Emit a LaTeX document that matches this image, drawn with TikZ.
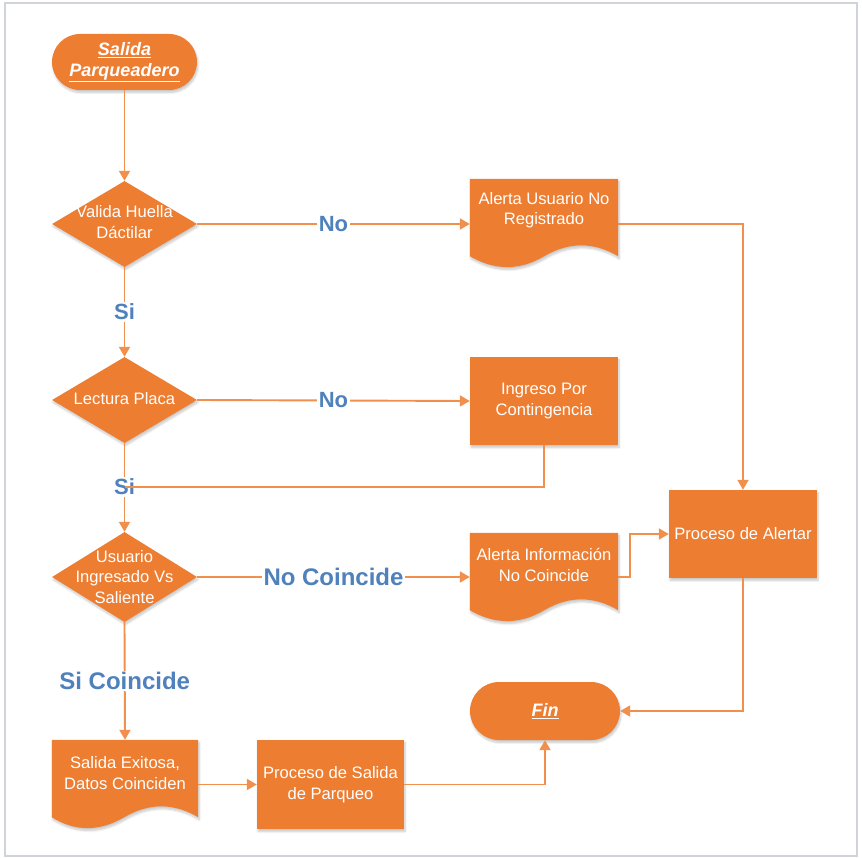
\documentclass[tikz,border=0pt]{standalone}
\usepackage{fontspec}
\setmainfont{Liberation Sans}
\usetikzlibrary{shapes.geometric,arrows.meta,shadows.blur,calc}

\definecolor{flowfill}{RGB}{237,125,49}
\definecolor{flowline}{RGB}{241,143,76}
\definecolor{flowlabel}{RGB}{79,129,189}
\definecolor{framegray}{RGB}{208,211,216}

\newcommand\boxfont{\fontsize{16.6}{20.5}\selectfont}

\tikzset{
  shapeshadow/.style={blur shadow={shadow xshift=1pt,shadow yshift=-2.5pt,
      shadow blur steps=6,shadow opacity=22}},
  terminal/.style={rectangle, rounded corners=28pt, fill=flowfill, shapeshadow,
      text=white, font=\bfseries\itshape\fontsize{18}{21}\selectfont,
      align=center, minimum width=145pt, minimum height=56pt, inner sep=0pt},
  decision/.style={diamond, fill=flowfill, shapeshadow,
      minimum width=145pt, minimum height=86pt, inner sep=0pt},
  process/.style={rectangle, fill=flowfill, shapeshadow, text=white,
      font=\boxfont, align=center, minimum width=148pt, minimum height=88pt,
      inner sep=0pt},
  docframe/.style={rectangle, minimum width=148pt, minimum height=77pt,
      inner sep=0pt},
  boxtext/.style={text=white, font=\boxfont, align=center, inner sep=0pt},
  link/.style={draw=flowline, line width=1.9pt},
  flow/.style={link, -{Triangle[width=11pt,length=10pt]}},
  tag/.style={text=flowlabel, font=\bfseries\fontsize{22}{24}\selectfont,
      fill=white, inner sep=1.5pt},
  bigtag/.style={tag, font=\bfseries\fontsize{24}{26}\selectfont},
}

% document symbol: flat top, wavy bottom edge below the frame node
\newcommand\docshape[1]{%
  \fill[flowfill, shapeshadow] (#1.north west) -- (#1.north east) -- (#1.south east)
    .. controls ($(#1.south east)+(-24.7,-14.5)$) and ($(#1.south east)+(-49.3,-14.5)$)
    .. ($(#1.south east)+(-74,0)$)
    .. controls ($(#1.south east)+(-98.7,14.5)$) and ($(#1.south east)+(-123.3,14.5)$)
    .. (#1.south west) -- cycle;}

\begin{document}
\begin{tikzpicture}[x=1pt,y=-1pt]
\useasboundingbox (0,0) rectangle (862,858);
\draw[framegray, line width=1.5pt] (5,3) rectangle (857,856);

% shapes
\node[terminal] (start) at (124.5,62) {\underline{Salida}\\\underline{Parqueadero}};

\node[decision] (d1) at (124.5,224) {};
\node[boxtext] (d1t) at (124.5,222) {Valida Huella\\Dáctilar};

\node[decision] (d2) at (124.5,400) {};
\node[boxtext] (d2t) at (124.5,399) {Lectura Placa};

\node[decision, minimum height=90pt] (d3) at (124.5,577) {};
\node[boxtext] (d3t) at (124.5,577) {Usuario\\Ingresado Vs\\Saliente};

\node[docframe] (doc1) at (544,217.5) {};
\docshape{doc1}
\node[boxtext] (doc1t) at (544,210) {Alerta Usuario No\\Registrado};

\node[process] (ingreso) at (544,401) {Ingreso Por\\Contingencia};

\node[docframe] (doc2) at (544,571.5) {};
\docshape{doc2}
\node[boxtext] (doc2t) at (544,565) {Alerta Información\\No Coincide};

\node[process] (alertar) at (743,534) {Proceso de Alertar};

\node[terminal, minimum width=150pt, minimum height=58pt, rounded corners=29pt]
  (fin) at (545,711) {\underline{Fin}};

\node[docframe, minimum width=146pt] (doc3) at (125,778.5) {};
\docshape{doc3}
\node[boxtext] (doc3t) at (125,773) {Salida Exitosa,\\Datos Coinciden};

\node[process, minimum width=147pt, minimum height=89pt] (salida) at (330.5,784.5)
  {Proceso de Salida\\de Parqueo};

% connectors
\draw[flow] (start.south) -- (d1.north);

\draw[flow] (d1.east) -- node[tag] {No} (d1 -| doc1.west);
\draw[flow] (d1.south) -- node[tag] {Si} (d2.north);

\draw[flow] (d2.east) -- node[tag] {No} (ingreso.west);

\coordinate (join) at (124.5,487);
\draw[flow] (d2.south) -- (d3.north);
\node[tag] (si2) at (join) {Si};
\draw[link] (ingreso.south) |- (join);

\draw[flow] (d3.east) -- node[bigtag] {No Coincide} (d3 -| doc2.west);
\coordinate (bend) at (630,577);
\draw[flow] (d3 -| doc2.east) -- (bend) |- (alertar.west);

\draw[flow] (d1 -| doc1.east) -| (alertar.north);
\draw[flow] (alertar.south) |- (fin.east);

\draw[flow] (d3.south) -- node[bigtag] {Si Coincide} (doc3.north);
\draw[flow] (salida.west -| doc3.east) -- (salida.west);
\draw[flow] (salida.east) -| (fin.south);
\end{tikzpicture}
\end{document}
